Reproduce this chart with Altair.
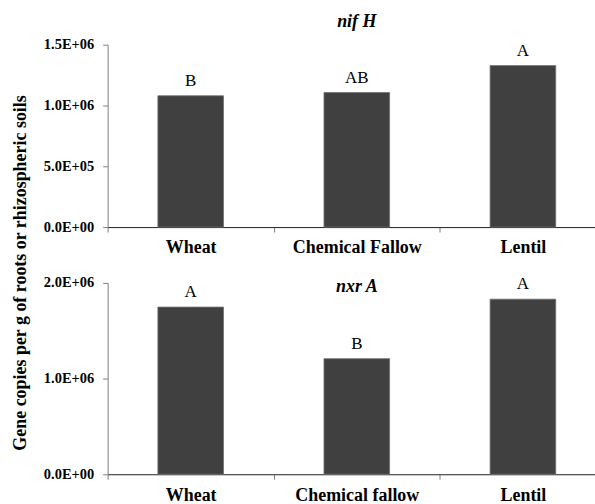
import altair as alt
import pandas as pd

categories_top = ["Wheat", "Chemical Fallow", "Lentil"]
nifH_values = [1.08e6, 1.107e6, 1.328e6]
nifH_letters = ["B", "AB", "A"]

categories_bottom = ["Wheat", "Chemical fallow", "Lentil"]
nxrA_values = [1.747e6, 1.208e6, 1.83e6]
nxrA_letters = ["A", "B", "A"]

top_ticks = [0, 500000, 1000000, 1500000]
top_tick_labels = ["0.0E+00", "5.0E+05", "1.0E+06", "1.5E+06"]
bottom_ticks = [0, 1000000, 2000000]
bottom_tick_labels = ["0.0E+00", "1.0E+06", "2.0E+06"]

y_title = "Gene copies per g of roots or rhizospheric soils"

FONT = "Liberation Serif"


def label_expr(ticks, labels):
    expr = "''"
    for t, l in zip(reversed(ticks), reversed(labels)):
        expr = f"datum.value == {t} ? '{l}' : ({expr})"
    return expr


def panel(cats, vals, letters, ticks, tick_labels, ymax, title, title_offset, height, ytitle=None):
    df = pd.DataFrame({"cat": cats, "val": vals, "letter": letters})
    x = alt.X(
        "cat:N", sort=cats,
        scale=alt.Scale(paddingInner=0, paddingOuter=0),
        axis=alt.Axis(title=None, labelAngle=0, labelFont=FONT, labelFontSize=18,
                      labelFontWeight="bold", labelColor="black", labelBaseline="alphabetic",
                      labelPadding=21, tickBand="extent", tickSize=5, tickColor="#808080",
                      domainColor="#202020", labelOverlap=False),
    )
    ya = dict(values=ticks, labelExpr=label_expr(ticks, tick_labels), labelFont=FONT,
              labelFontSize=14.5, labelFontWeight="bold", labelColor="black", labelPadding=9,
              tickSize=5, tickColor="#808080", domainColor="#808080", grid=False)
    if ytitle:
        ya.update(title=ytitle, titleFont=FONT, titleFontSize=18, titleFontWeight="bold",
                  titleColor="black", titleX=-82, titleY=228.5, titleBaseline="alphabetic")
    else:
        ya.update(title=None)
    y = alt.Y("val:Q", scale=alt.Scale(domain=[0, ymax], nice=False, zero=True),
              axis=alt.Axis(**ya))
    base = alt.Chart(df)
    bars = base.mark_bar(width=alt.RelativeBandSize(0.395), color="#404040",
                         stroke="#707070", strokeWidth=0.8).encode(x=x, y=y)
    text = base.mark_text(font=FONT, fontSize=17, baseline="alphabetic", dy=-10,
                          color="black").encode(x=x, y=y, text="letter:N")
    return alt.layer(bars, text).properties(
        width=500, height=height,
        title=alt.TitleParams(title, font=FONT, fontSize=18, fontStyle="italic",
                              fontWeight="bold", anchor="middle", offset=title_offset,
                              baseline="alphabetic", color="black"),
    )


top = panel(categories_top, nifH_values, nifH_letters, top_ticks, top_tick_labels,
            1.5e6, "nif H", -8, 183, ytitle=y_title)
bottom = panel(categories_bottom, nxrA_values, nxrA_letters, bottom_ticks,
               bottom_tick_labels, 2.0e6, "nxr A", -35, 192)

chart = alt.vconcat(top, bottom, spacing=56, bounds="flush").properties(
    padding={"left": 11, "top": 12, "right": -12, "bottom": 0}
).configure_view(stroke=None)

chart.save("out.html", embed_options={"renderer": "svg", "actions": False})
